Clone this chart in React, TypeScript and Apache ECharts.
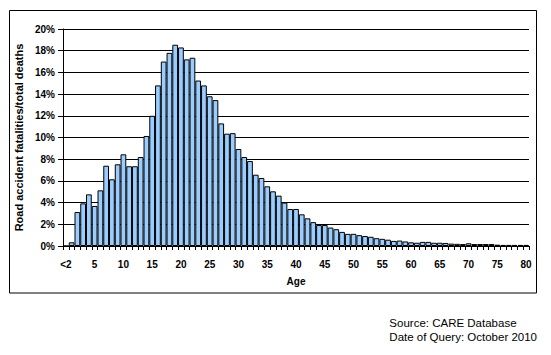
import React, { useEffect, useRef } from "react";
import * as echarts from "echarts";

const ages = [
  "<2", "1", "2", "3", "4", "5", "6", "7", "8", "9", "10",
  "11", "12", "13", "14", "15", "16", "17", "18", "19", "20",
  "21", "22", "23", "24", "25", "26", "27", "28", "29", "30",
  "31", "32", "33", "34", "35", "36", "37", "38", "39", "40",
  "41", "42", "43", "44", "45", "46", "47", "48", "49", "50",
  "51", "52", "53", "54", "55", "56", "57", "58", "59", "60",
  "61", "62", "63", "64", "65", "66", "67", "68", "69", "70",
  "71", "72", "73", "74", "75", "76", "77", "78", "79", "80",
];

const shares = [
  0, 0.34, 3.13, 3.93, 4.76, 3.69, 5.13, 7.4, 6.15, 7.53, 8.45,
  7.35, 7.35, 8.2, 10.14, 12.0, 14.8, 17.0, 17.8, 18.55, 18.3,
  17.2, 17.35, 15.25, 14.8, 13.8, 13.45, 11.3, 10.35, 10.4, 8.94,
  8.2, 7.83, 6.57, 6.27, 5.5, 5.04, 4.64, 4.0, 3.41, 3.41,
  2.92, 2.55, 2.2, 1.93, 1.93, 1.7, 1.55, 1.3, 1.12, 1.12,
  1.0, 0.92, 0.85, 0.72, 0.66, 0.58, 0.47, 0.5, 0.42, 0.34,
  0.3, 0.38, 0.38, 0.3, 0.3, 0.28, 0.22, 0.2, 0.18, 0.25,
  0.18, 0.18, 0.18, 0.18, 0.12, 0.1, 0.1, 0.1, 0.1, 0.1,
];

const sourceLines = ["Source: CARE Database", "Date of Query: October 2010"];

export default function App() {
  const ref = useRef<HTMLDivElement>(null);
  useEffect(() => {
    if (!ref.current) return;
    const chart = echarts.init(ref.current, undefined, { renderer: "svg" });
    const font = "'Liberation Sans', Arial, sans-serif";
    chart.setOption({
      animation: false,
      backgroundColor: "#ffffff",
      textStyle: { fontFamily: font },
      grid: { left: 63, right: 22, top: 29, bottom: 109, containLabel: false },
      xAxis: {
        type: "category",
        data: ages,
        boundaryGap: true,
        name: "Age",
        nameLocation: "middle",
        nameGap: 30,
        nameTextStyle: { fontFamily: font, fontSize: 10, fontWeight: "bold", color: "#000" },
        axisLine: { show: true, lineStyle: { color: "#000", width: 1 } },
        axisTick: { show: true, interval: 0, length: 4, lineStyle: { color: "#000" } },
        axisLabel: {
          interval: 4,
          margin: 13,
          fontFamily: font,
          fontSize: 10,
          fontWeight: "bold",
          color: "#000",
        },
        splitLine: { show: false },
        z: 5,
      },
      yAxis: {
        type: "value",
        min: 0,
        max: 20,
        interval: 2,
        name: "Road accident fatalities/total deaths",
        nameLocation: "middle",
        nameGap: 36,
        nameTextStyle: { fontFamily: font, fontSize: 11, fontWeight: "bold", color: "#000" },
        axisLine: { show: true, lineStyle: { color: "#000", width: 1 } },
        axisTick: { show: true, inside: false, length: 5, lineStyle: { color: "#000" } },
        axisLabel: {
          formatter: "{value}%",
          margin: 8,
          fontFamily: font,
          fontSize: 10,
          fontWeight: "bold",
          color: "#000",
        },
        splitLine: { show: true, lineStyle: { color: "#000", width: 1 } },
      },
      series: [
        {
          type: "bar",
          data: shares,
          barCategoryGap: "0%",
          itemStyle: { color: "#99CCFF", borderColor: "#000", borderWidth: 1 },
          z: 3,
        },
      ],
      graphic: [
        {
          type: "rect",
          shape: { x: 9.5, y: 10.5, width: 527, height: 282.5 },
          style: { fill: "none", stroke: "#000", lineWidth: 1 },
          silent: true,
        },
        {
          type: "text",
          right: 14,
          top: 316,
          style: {
            text: sourceLines.join("\n"),
            fontFamily: font,
            fontSize: 11.5,
            lineHeight: 14,
            fill: "#000",
            align: "right",
          },
        },
      ],
    });
    return () => chart.dispose();
  }, []);
  return (
    <div
      ref={ref}
      style={{ position: "fixed", left: 0, top: 0, width: 551, height: 355, background: "#fff" }}
    />
  );
}
